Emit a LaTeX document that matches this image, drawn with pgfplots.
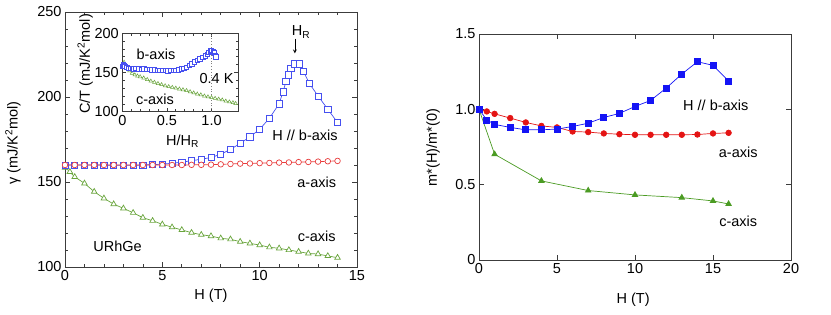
\documentclass[border=0pt]{standalone}
\usepackage{fontspec}
\setmainfont{Liberation Sans}
\usepackage{pgfplots}
\pgfplotsset{compat=1.18}
\definecolor{axgray}{RGB}{60,60,60}
\definecolor{lblue}{RGB}{70,80,240}
\definecolor{lred}{RGB}{232,60,60}
\definecolor{lgreen}{RGB}{105,165,60}
\definecolor{rblue}{RGB}{20,20,245}
\definecolor{rred}{RGB}{228,20,20}
\definecolor{rgreen}{RGB}{75,155,35}
\newcommand\fs{\fontsize{14.5}{17}\selectfont}
\pgfplotsset{
  mystyle/.style={
    scale only axis, anchor=south west,
    axis line style={draw=axgray, line width=0.8pt},
    every tick/.style={draw=axgray, line width=0.7pt},
    major tick length=5pt, minor tick length=3pt,
    tick align=inside,
    font=\fs,
    clip mode=individual,
    /pgf/number format/assume math mode=true,
  }
}
\begin{document}
\begin{tikzpicture}
\useasboundingbox (0,0) rectangle (831pt,314pt);
% ---------------- left main axis
\begin{axis}[mystyle, at={(65pt,47pt)}, width=292pt, height=255pt,
  xmin=0, xmax=15, ymin=100, ymax=250,
  xtick={0,5,10,15}, xticklabels={0,5,10,15}, minor x tick num=4,
  ytick={100,150,200,250}, yticklabels={100,150,200,250}, minor y tick num=4,
  xlabel={H (T)}, ylabel={γ (mJ/K\textsuperscript{2}mol)},
  xlabel style={at={(axis description cs:0.5,-0.114)}, anchor=center},
  ylabel style={at={(axis description cs:-0.178,0.486)}, anchor=center},
]
\addplot[color=lgreen, line width=0.7pt, mark=triangle*, mark size=3.2pt, mark options={solid, line width=0.7pt, fill=white}] coordinates {
(0,158.5)(0.25,156)(0.5,153)(1,149.2)(1.5,144.3)(2,140.4)(2.5,137)(3,134.5)(3.5,131.9)(4,129)(4.5,127.2)(5,125.1)(5.5,123.4)(6,121.8)(6.5,120.2)(7,119)(7.5,118.2)(8,116.9)(8.5,116.3)(9,114.9)(9.5,113.9)(10,112.9)(10.5,111.6)(11,111)(11.5,110)(12,109)(12.5,108)(13,107.6)(13.5,106.5)(14,105.5)};
\addplot[color=lblue, line width=0.7pt, mark=square*, mark size=3.1pt, mark options={solid, line width=0.7pt, fill=white}] coordinates {
(0,160)(0.5,160)(1,160)(1.5,160)(2,160)(2.5,159.8)(3,159.8)(3.5,159.8)(4,160)(4.5,160.2)(5,160.5)(5.5,161)(6,161.7)(6.5,162.5)(7,163.4)(7.5,164.4)(8,166.3)(8.5,169.2)(9,172.7)(9.5,176.6)(10,181)(10.5,187.5)(11,196)(11.2,203)(11.35,209)(11.47,213)(11.6,217)(11.8,219.5)(12.05,219.5)(12.25,215)(12.55,208)(13,200.6)(13.5,192.8)(14,185)};
\addplot[color=lred, line width=0.7pt, mark=*, mark size=2.8pt, mark options={solid, line width=0.7pt, fill=white}] coordinates {
(0,160)(0.5,160)(1,160)(1.5,160)(2,160)(2.5,160)(3,160)(3.5,160)(4,160)(4.5,160)(5,160)(5.5,160)(6,160)(6.5,160.1)(7,160.1)(7.5,160.2)(8,160.4)(8.5,160.6)(9,160.8)(9.5,160.9)(10,161.1)(10.5,161.2)(11,161.4)(11.5,161.5)(12,161.7)(12.5,161.8)(13,162)(13.5,162.2)(14,162.4)};
\node[anchor=base west] at (axis cs:11.47,235.9) {H\textsubscript{R}};
\draw[->, >=stealth, line width=0.7pt] (axis cs:11.81,234.3) -- (axis cs:11.81,225.7);
\node at (axis cs:12.33,177.6) {H // b-axis};
\node at (axis cs:12.93,149.7) {a-axis};
\node at (axis cs:12.93,117.8) {c-axis};
\node at (axis cs:2.7,112) {URhGe};
\end{axis}
% ---------------- inset
\begin{axis}[mystyle, at={(122.3pt,202.3pt)}, width=116pt, height=78.4pt,
  axis background/.style={fill=white},
  xmin=0, xmax=1.3, ymin=100, ymax=200,
  xtick={0,0.5,1}, xticklabels={0,0.5,1.0}, minor x tick num=4,
  ytick={100,150,200}, yticklabels={100,150,200}, minor y tick num=4,
  major tick length=4pt, minor tick length=2.5pt,
  xlabel={H/H\textsubscript{R}}, ylabel={C/T (mJ/K\textsuperscript{2}mol)},
  xlabel style={at={(axis description cs:0.52,-0.425)}, anchor=base},
  ylabel style={at={(axis description cs:-0.32,0.61)}, anchor=center},
]
\draw[gray, dotted, line width=0.8pt] (axis cs:1,100) -- (axis cs:1,200);
\addplot[color=lgreen, line width=0.5pt, mark=triangle*, mark size=2.1pt, mark options={solid, line width=0.5pt, fill=white}] coordinates {
(0.02,163)(0.05,157)(0.08,152)(0.11,149)(0.14,147)(0.17,145.5)(0.2,144.5)(0.24,143)(0.28,141)(0.32,139)(0.36,137.5)(0.4,136)(0.44,134.5)(0.48,133)(0.52,132)(0.56,131)(0.6,130)(0.64,129)(0.68,128)(0.72,127)(0.76,125.5)(0.8,124)(0.84,122.5)(0.88,121.5)(0.92,120)(0.96,119)(1.0,118)(1.04,117)(1.08,116)(1.12,115)(1.16,113.5)(1.2,112.5)(1.24,111.5)(1.27,110.5)};
\addplot[color=lblue, line width=0.5pt, mark=square*, mark size=2.2pt, mark options={solid, line width=0.6pt, fill=white}] coordinates {
(0,158)(0.01,160)(0.02,159)(0.03,158)(0.05,157)(0.07,155)(0.09,155.5)(0.11,155)(0.13,154.5)(0.15,155)(0.18,154.5)(0.21,154)(0.24,154.5)(0.27,154)(0.3,154)(0.33,153.5)(0.36,153.5)(0.39,153)(0.42,153)(0.45,152.5)(0.48,152.5)(0.51,152)(0.54,152.5)(0.57,152.5)(0.6,153)(0.63,153.5)(0.66,154.5)(0.69,155.5)(0.72,157)(0.75,159)(0.78,161)(0.81,163.5)(0.84,165.5)(0.87,167.5)(0.9,169.5)(0.93,171.5)(0.95,173.5)(0.97,175.5)(0.99,177.5)(1.0,178.5)(1.02,177)(1.03,175)(1.04,172)(1.05,170)};
\node at (axis cs:0.377,173.6) {b-axis};
\node at (axis cs:1.056,142.6) {0.4 K};
\node at (axis cs:0.366,116.2) {c-axis};
\end{axis}
% ---------------- right axis
\begin{axis}[mystyle, at={(479pt,54pt)}, width=312pt, height=226pt,
  xmin=0, xmax=20, ymin=0, ymax=1.5,
  xtick={0,5,10,15,20}, xticklabels={0,5,10,15,20},
  ytick={0,0.5,1,1.5}, yticklabels={0,0.5,1.0,1.5},
  xlabel={H (T)}, ylabel={m*(H)/m*(0)},
  xlabel style={at={(axis description cs:0.494,-0.177)}, anchor=center},
  ylabel style={at={(axis description cs:-0.147,0.498)}, anchor=center},
]
\addplot[color=rgreen, line width=0.7pt, mark=triangle*, mark size=3.2pt, mark options={solid}] coordinates {
(0,1.0)(1,0.702)(4,0.525)(7,0.461)(10,0.432)(13,0.414)(15,0.392)(16,0.372)};
\addplot[color=rred, line width=0.7pt, mark=*, mark size=2.8pt, mark options={solid}] coordinates {
(0,1.0)(0.5,0.986)(1,0.97)(2,0.942)(3,0.913)(4,0.89)(5,0.88)(6,0.853)(7,0.849)(8,0.84)(9,0.835)(10,0.831)(11,0.831)(12,0.831)(13,0.831)(14,0.833)(15,0.84)(16,0.844)};
\addplot[color=rblue, line width=0.7pt, mark=square*, mark size=3pt, mark options={solid}] coordinates {
(0,1.0)(0.5,0.93)(1,0.90)(2,0.88)(3,0.864)(4,0.864)(5,0.869)(6,0.886)(7,0.908)(8,0.946)(9,0.973)(10,1.019)(11,1.059)(12,1.141)(13,1.234)(14,1.316)(15,1.292)(16,1.188)};
\node at (axis cs:15.18,1.028) {H // b-axis};
\node at (axis cs:16.62,0.713) {a-axis};
\node at (axis cs:16.62,0.259) {c-axis};
\end{axis}
\end{tikzpicture}
\end{document}
